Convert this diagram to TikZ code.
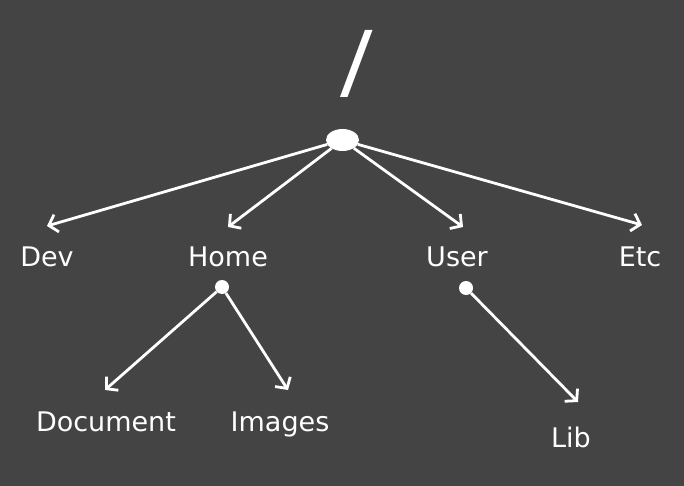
\documentclass[tikz,border=0pt]{standalone}
\usepackage{fontspec}
\setmainfont{DejaVu Sans}
\newfontfamily\slashfont{Open Sans}
\usetikzlibrary{arrows.meta,shapes.geometric}
\definecolor{bg}{HTML}{444444}
\begin{document}
\begin{tikzpicture}[x=1pt,y=-1pt,
  lbl/.style={text=white,font=\fontsize{27}{30}\selectfont,inner sep=0pt,anchor=base},
  conn/.style={draw=white,line width=2.8pt,-{Straight Barb[length=8pt,width=18pt,line width=2.8pt]}},
  dot/.style={circle,fill=white,minimum size=14pt,inner sep=0pt}]
\fill[bg] (0,0) rectangle (684,486);
\useasboundingbox (0,0) rectangle (684,486);
\node[text=white,font=\slashfont\fontsize{94}{100}\selectfont,inner sep=0pt,anchor=base] (slash) at (357,98) {/};
\node[ellipse,fill=white,minimum width=33pt,minimum height=22pt,inner sep=0pt] (root) at (342.5,140) {};
\node[lbl] (dev) at (47,266) {Dev};
\node[lbl] (home) at (228,266) {Home};
\node[lbl] (user) at (457,266) {User};
\node[lbl] (etc) at (640,266) {Etc};
\node[lbl] (doc) at (106,431) {Document};
\node[lbl] (img) at (280,431) {Images};
\node[lbl] (lib) at (571,447) {Lib};
\node[dot] (hdot) at (222,287) {};
\node[dot] (udot) at (466,288) {};
\coordinate (devtip) at (47,226);
\coordinate (hometip) at (228,227);
\coordinate (usertip) at (463,227);
\coordinate (etctip) at (642,225);
\coordinate (doctip) at (105,390);
\coordinate (imgtip) at (288,390);
\coordinate (libtip) at (578,402);
\draw[conn] (root) -- (devtip);
\draw[conn] (root) -- (hometip);
\draw[conn] (root) -- (usertip);
\draw[conn] (root) -- (etctip);
\draw[conn] (hdot) -- (doctip);
\draw[conn] (hdot) -- (imgtip);
\draw[conn] (udot) -- (libtip);
\end{tikzpicture}
\end{document}
